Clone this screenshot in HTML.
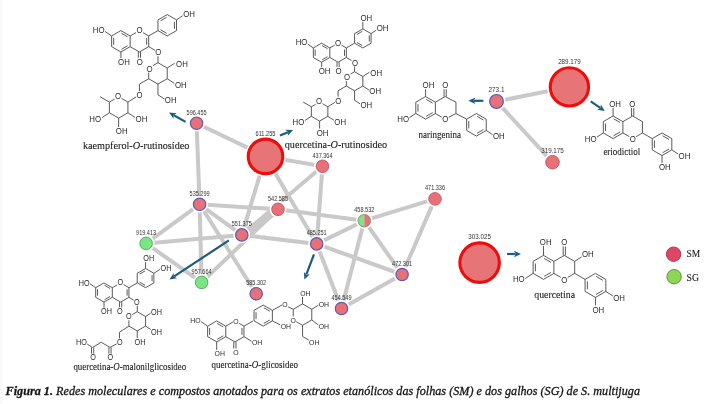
<!DOCTYPE html><html><head><meta charset="utf-8"><style>html,body{margin:0;padding:0;background:#fff;width:710px;height:404px;overflow:hidden}svg{display:block;will-change:transform;filter:blur(0.4px)}</style></head><body><svg width="710" height="404" viewBox="0 0 710 404">
<style>.at{font-family:"Liberation Sans",sans-serif;fill:#2a2a2a}.ms{font-family:"Liberation Sans",sans-serif;font-size:6.3px;fill:#333}.nm{font-family:"Liberation Serif",serif;fill:#1a1a1a;stroke:#1a1a1a;stroke-width:0.1px}.cap{font-family:"Liberation Serif",serif;fill:#151515;stroke:#151515;stroke-width:0.3px}</style>
<rect width="710" height="404" fill="#fff"/><rect width="2.5" height="404" fill="#f6faf9"/>
<line x1="196.6" y1="123.2" x2="265.5" y2="156.4" stroke="#c9c9c9" stroke-width="4"/>
<line x1="196.6" y1="123.2" x2="199.6" y2="204.3" stroke="#c9c9c9" stroke-width="4"/>
<line x1="265.5" y1="156.4" x2="322.5" y2="166.3" stroke="#c9c9c9" stroke-width="4"/>
<line x1="265.5" y1="156.4" x2="241.8" y2="234.9" stroke="#c9c9c9" stroke-width="4"/>
<line x1="265.5" y1="156.4" x2="316.7" y2="243.9" stroke="#c9c9c9" stroke-width="4"/>
<line x1="322.5" y1="166.3" x2="241.8" y2="234.9" stroke="#c9c9c9" stroke-width="4"/>
<line x1="322.5" y1="166.3" x2="316.7" y2="243.9" stroke="#c9c9c9" stroke-width="4"/>
<line x1="199.6" y1="204.3" x2="278.0" y2="209.3" stroke="#c9c9c9" stroke-width="4"/>
<line x1="199.6" y1="204.3" x2="241.8" y2="234.9" stroke="#c9c9c9" stroke-width="4"/>
<line x1="199.6" y1="204.3" x2="201.6" y2="282.4" stroke="#c9c9c9" stroke-width="4"/>
<line x1="199.6" y1="204.3" x2="256.2" y2="293.7" stroke="#c9c9c9" stroke-width="4"/>
<line x1="199.6" y1="204.3" x2="146.1" y2="243.4" stroke="#c9c9c9" stroke-width="4"/>
<line x1="241.8" y1="234.9" x2="146.1" y2="243.4" stroke="#c9c9c9" stroke-width="4"/>
<line x1="241.8" y1="234.9" x2="316.7" y2="243.9" stroke="#c9c9c9" stroke-width="4"/>
<line x1="241.8" y1="234.9" x2="278.0" y2="209.3" stroke="#c9c9c9" stroke-width="7"/>
<line x1="201.6" y1="282.4" x2="278.0" y2="209.3" stroke="#c9c9c9" stroke-width="4"/>
<line x1="146.1" y1="243.4" x2="201.6" y2="282.4" stroke="#c9c9c9" stroke-width="4"/>
<line x1="278.0" y1="209.3" x2="364.3" y2="220.7" stroke="#c9c9c9" stroke-width="4"/>
<line x1="316.7" y1="243.9" x2="364.3" y2="220.7" stroke="#c9c9c9" stroke-width="4"/>
<line x1="316.7" y1="243.9" x2="402.1" y2="274.5" stroke="#c9c9c9" stroke-width="4"/>
<line x1="316.7" y1="243.9" x2="341.5" y2="308.5" stroke="#c9c9c9" stroke-width="4"/>
<line x1="364.3" y1="220.7" x2="435.0" y2="198.9" stroke="#c9c9c9" stroke-width="4"/>
<line x1="364.3" y1="220.7" x2="402.1" y2="274.5" stroke="#c9c9c9" stroke-width="4"/>
<line x1="364.3" y1="220.7" x2="341.5" y2="308.5" stroke="#c9c9c9" stroke-width="4"/>
<line x1="435.0" y1="198.9" x2="402.1" y2="274.5" stroke="#c9c9c9" stroke-width="4"/>
<line x1="402.1" y1="274.5" x2="341.5" y2="308.5" stroke="#c9c9c9" stroke-width="4"/>
<line x1="496.5" y1="101.4" x2="569.4" y2="86.9" stroke="#c9c9c9" stroke-width="4"/>
<line x1="496.5" y1="101.4" x2="552.5" y2="162.2" stroke="#c9c9c9" stroke-width="4"/>
<circle cx="196.6" cy="123.2" r="8.4" fill="#fff"/>
<circle cx="196.6" cy="123.2" r="6.2" fill="#e87078" stroke="#5b5bb0" stroke-width="1.2"/>
<text x="186.60" y="114.70" class="ms" textLength="20.00" lengthAdjust="spacingAndGlyphs">596.455</text>
<circle cx="265.5" cy="156.4" r="20.3" fill="#fff"/>
<circle cx="265.5" cy="156.4" r="17.25" fill="#e77578" stroke="#ee0d0d" stroke-width="3.1"/>
<text x="255.50" y="136.20" class="ms" textLength="20.00" lengthAdjust="spacingAndGlyphs">611.255</text>
<circle cx="322.5" cy="166.3" r="8.4" fill="#fff"/>
<circle cx="322.5" cy="166.3" r="6.3" fill="#e87078" stroke="#c05862" stroke-width="0.9"/>
<text x="312.50" y="157.80" class="ms" textLength="20.00" lengthAdjust="spacingAndGlyphs">437.364</text>
<circle cx="199.6" cy="204.3" r="8.4" fill="#fff"/>
<circle cx="199.6" cy="204.3" r="6.2" fill="#e87078" stroke="#5b5bb0" stroke-width="1.2"/>
<text x="189.60" y="195.80" class="ms" textLength="20.00" lengthAdjust="spacingAndGlyphs">535.299</text>
<circle cx="278.0" cy="209.3" r="8.4" fill="#fff"/>
<circle cx="278.0" cy="209.3" r="6.3" fill="#e87078" stroke="#c05862" stroke-width="0.9"/>
<text x="268.00" y="200.80" class="ms" textLength="20.00" lengthAdjust="spacingAndGlyphs">542.585</text>
<circle cx="241.8" cy="234.9" r="8.4" fill="#fff"/>
<circle cx="241.8" cy="234.9" r="6.2" fill="#e87078" stroke="#5b5bb0" stroke-width="1.2"/>
<text x="231.80" y="226.40" class="ms" textLength="20.00" lengthAdjust="spacingAndGlyphs">551.375</text>
<circle cx="146.1" cy="243.4" r="8.4" fill="#fff"/>
<circle cx="146.1" cy="243.4" r="6.3" fill="#78e682" stroke="#55a05a" stroke-width="0.9"/>
<text x="136.10" y="234.90" class="ms" textLength="20.00" lengthAdjust="spacingAndGlyphs">919.413</text>
<circle cx="201.6" cy="282.4" r="8.4" fill="#fff"/>
<circle cx="201.6" cy="282.4" r="6.3" fill="#78e682" stroke="#55a05a" stroke-width="0.9"/>
<text x="191.60" y="273.90" class="ms" textLength="20.00" lengthAdjust="spacingAndGlyphs">957.664</text>
<circle cx="256.2" cy="293.7" r="8.4" fill="#fff"/>
<circle cx="256.2" cy="293.7" r="6.2" fill="#e87078" stroke="#5b5bb0" stroke-width="1.2"/>
<text x="246.20" y="285.20" class="ms" textLength="20.00" lengthAdjust="spacingAndGlyphs">585.302</text>
<circle cx="316.7" cy="243.9" r="8.4" fill="#fff"/>
<circle cx="316.7" cy="243.9" r="6.2" fill="#e87078" stroke="#5b5bb0" stroke-width="1.2"/>
<text x="306.70" y="235.40" class="ms" textLength="20.00" lengthAdjust="spacingAndGlyphs">485.251</text>
<circle cx="364.3" cy="220.7" r="8.4" fill="#fff"/>
<path d="M364.3,214.39999999999998 A6.3,6.3 0 0 0 364.3,227.0 Z" fill="#78e682"/>
<path d="M364.3,214.39999999999998 A6.3,6.3 0 0 1 364.3,227.0 Z" fill="#e87078"/>
<circle cx="364.3" cy="220.7" r="6.3" fill="none" stroke="#8a8a6a" stroke-width="0.9"/>
<text x="354.30" y="212.20" class="ms" textLength="20.00" lengthAdjust="spacingAndGlyphs">458.532</text>
<circle cx="435.0" cy="198.9" r="8.4" fill="#fff"/>
<circle cx="435.0" cy="198.9" r="6.3" fill="#e87078" stroke="#c05862" stroke-width="0.9"/>
<text x="425.00" y="190.40" class="ms" textLength="20.00" lengthAdjust="spacingAndGlyphs">471.336</text>
<circle cx="402.1" cy="274.5" r="8.4" fill="#fff"/>
<circle cx="402.1" cy="274.5" r="6.2" fill="#e87078" stroke="#5b5bb0" stroke-width="1.2"/>
<text x="392.10" y="266.00" class="ms" textLength="20.00" lengthAdjust="spacingAndGlyphs">472.301</text>
<circle cx="341.5" cy="308.5" r="8.4" fill="#fff"/>
<circle cx="341.5" cy="308.5" r="6.2" fill="#e87078" stroke="#5b5bb0" stroke-width="1.2"/>
<text x="331.50" y="300.00" class="ms" textLength="20.00" lengthAdjust="spacingAndGlyphs">454.549</text>
<circle cx="496.5" cy="101.4" r="9.1" fill="#fff"/>
<circle cx="496.5" cy="101.4" r="6.9" fill="#e87078" stroke="#5b5bb0" stroke-width="1.2"/>
<text x="488.46" y="92.20" class="ms" textLength="16.07" lengthAdjust="spacingAndGlyphs">273.1</text>
<circle cx="569.4" cy="86.9" r="22.2" fill="#fff"/>
<circle cx="569.4" cy="86.9" r="19.15" fill="#e77578" stroke="#ee0d0d" stroke-width="3.1"/>
<text x="558.15" y="63.80" class="ms" textLength="22.50" lengthAdjust="spacingAndGlyphs">289.179</text>
<circle cx="552.5" cy="162.2" r="8.9" fill="#fff"/>
<circle cx="552.5" cy="162.2" r="6.8" fill="#e87078" stroke="#c05862" stroke-width="0.9"/>
<text x="541.25" y="153.20" class="ms" textLength="22.50" lengthAdjust="spacingAndGlyphs">319.175</text>
<circle cx="479.6" cy="262.6" r="22.8" fill="#fff"/>
<circle cx="479.6" cy="262.6" r="19.75" fill="#e77578" stroke="#ee0d0d" stroke-width="3.1"/>
<text x="468.35" y="238.90" class="ms" textLength="22.50" lengthAdjust="spacingAndGlyphs">303.025</text>
<line x1="120.90" y1="30.60" x2="130.17" y2="35.95" stroke="#3c3c3c" stroke-width="0.85"/>
<line x1="130.17" y1="35.95" x2="130.17" y2="46.65" stroke="#3c3c3c" stroke-width="0.85"/>
<line x1="130.17" y1="46.65" x2="120.90" y2="52.00" stroke="#3c3c3c" stroke-width="0.85"/>
<line x1="120.90" y1="52.00" x2="111.63" y2="46.65" stroke="#3c3c3c" stroke-width="0.85"/>
<line x1="111.63" y1="46.65" x2="111.63" y2="35.95" stroke="#3c3c3c" stroke-width="0.85"/>
<line x1="111.63" y1="35.95" x2="120.90" y2="30.60" stroke="#3c3c3c" stroke-width="0.85"/>
<line x1="113.67" y1="44.81" x2="113.67" y2="37.79" stroke="#3c3c3c" stroke-width="0.85"/>
<line x1="121.48" y1="33.29" x2="127.55" y2="36.79" stroke="#3c3c3c" stroke-width="0.85"/>
<line x1="127.55" y1="45.81" x2="121.48" y2="49.31" stroke="#3c3c3c" stroke-width="0.85"/>
<line x1="130.17" y1="35.95" x2="139.43" y2="30.60" stroke="#3c3c3c" stroke-width="0.85"/>
<line x1="139.43" y1="30.60" x2="148.70" y2="35.95" stroke="#3c3c3c" stroke-width="0.85"/>
<line x1="148.70" y1="35.95" x2="148.70" y2="46.65" stroke="#3c3c3c" stroke-width="0.85"/>
<line x1="148.70" y1="46.65" x2="139.43" y2="52.00" stroke="#3c3c3c" stroke-width="0.85"/>
<line x1="139.43" y1="52.00" x2="130.17" y2="46.65" stroke="#3c3c3c" stroke-width="0.85"/>
<line x1="146.66" y1="37.79" x2="146.66" y2="44.81" stroke="#3c3c3c" stroke-width="0.85"/>
<line x1="138.33" y1="52.00" x2="138.33" y2="59.70" stroke="#3c3c3c" stroke-width="0.85"/>
<line x1="140.53" y1="52.00" x2="140.53" y2="59.70" stroke="#3c3c3c" stroke-width="0.85"/>
<line x1="148.70" y1="46.65" x2="157.97" y2="52.00" stroke="#3c3c3c" stroke-width="0.85"/>
<line x1="157.97" y1="52.00" x2="157.97" y2="62.70" stroke="#3c3c3c" stroke-width="0.85"/>
<line x1="148.70" y1="35.95" x2="157.97" y2="30.60" stroke="#3c3c3c" stroke-width="0.85"/>
<line x1="167.23" y1="14.55" x2="176.50" y2="19.90" stroke="#3c3c3c" stroke-width="0.85"/>
<line x1="176.50" y1="19.90" x2="176.50" y2="30.60" stroke="#3c3c3c" stroke-width="0.85"/>
<line x1="176.50" y1="30.60" x2="167.23" y2="35.95" stroke="#3c3c3c" stroke-width="0.85"/>
<line x1="167.23" y1="35.95" x2="157.97" y2="30.60" stroke="#3c3c3c" stroke-width="0.85"/>
<line x1="157.97" y1="30.60" x2="157.97" y2="19.90" stroke="#3c3c3c" stroke-width="0.85"/>
<line x1="157.97" y1="19.90" x2="167.23" y2="14.55" stroke="#3c3c3c" stroke-width="0.85"/>
<line x1="160.58" y1="20.74" x2="166.65" y2="17.24" stroke="#3c3c3c" stroke-width="0.85"/>
<line x1="174.46" y1="21.74" x2="174.46" y2="28.76" stroke="#3c3c3c" stroke-width="0.85"/>
<line x1="166.65" y1="33.26" x2="160.58" y2="29.76" stroke="#3c3c3c" stroke-width="0.85"/>
<line x1="176.50" y1="19.90" x2="184.38" y2="14.55" stroke="#3c3c3c" stroke-width="0.85"/>
<line x1="111.63" y1="35.95" x2="103.76" y2="30.60" stroke="#3c3c3c" stroke-width="0.85"/>
<line x1="120.90" y1="52.00" x2="120.90" y2="60.56" stroke="#3c3c3c" stroke-width="0.85"/>
<line x1="157.97" y1="62.70" x2="167.23" y2="68.05" stroke="#3c3c3c" stroke-width="0.85"/>
<line x1="167.23" y1="68.05" x2="167.23" y2="78.75" stroke="#3c3c3c" stroke-width="0.85"/>
<line x1="167.23" y1="78.75" x2="157.97" y2="84.10" stroke="#3c3c3c" stroke-width="0.85"/>
<line x1="157.97" y1="84.10" x2="148.70" y2="78.75" stroke="#3c3c3c" stroke-width="0.85"/>
<line x1="148.70" y1="78.75" x2="148.70" y2="68.05" stroke="#3c3c3c" stroke-width="0.85"/>
<line x1="148.70" y1="68.05" x2="157.97" y2="62.70" stroke="#3c3c3c" stroke-width="0.85"/>
<line x1="167.23" y1="68.05" x2="174.65" y2="63.23" stroke="#3c3c3c" stroke-width="0.85"/>
<line x1="167.23" y1="78.75" x2="174.65" y2="83.56" stroke="#3c3c3c" stroke-width="0.85"/>
<line x1="157.97" y1="84.10" x2="157.97" y2="94.80" stroke="#3c3c3c" stroke-width="0.85"/>
<line x1="157.97" y1="94.80" x2="165.38" y2="99.61" stroke="#3c3c3c" stroke-width="0.85"/>
<line x1="148.70" y1="78.75" x2="139.43" y2="84.10" stroke="#3c3c3c" stroke-width="0.85"/>
<line x1="139.43" y1="84.10" x2="139.43" y2="94.80" stroke="#3c3c3c" stroke-width="0.85"/>
<line x1="118.65" y1="96.73" x2="127.92" y2="102.08" stroke="#3c3c3c" stroke-width="0.85"/>
<line x1="127.92" y1="102.08" x2="127.92" y2="112.78" stroke="#3c3c3c" stroke-width="0.85"/>
<line x1="127.92" y1="112.78" x2="118.65" y2="118.13" stroke="#3c3c3c" stroke-width="0.85"/>
<line x1="118.65" y1="118.13" x2="109.39" y2="112.78" stroke="#3c3c3c" stroke-width="0.85"/>
<line x1="109.39" y1="112.78" x2="109.39" y2="102.08" stroke="#3c3c3c" stroke-width="0.85"/>
<line x1="109.39" y1="102.08" x2="118.65" y2="96.73" stroke="#3c3c3c" stroke-width="0.85"/>
<line x1="139.43" y1="94.80" x2="127.92" y2="102.08" stroke="#3c3c3c" stroke-width="0.85"/>
<line x1="109.39" y1="102.08" x2="100.12" y2="96.73" stroke="#3c3c3c" stroke-width="0.85"/>
<line x1="109.39" y1="112.78" x2="101.97" y2="117.59" stroke="#3c3c3c" stroke-width="0.85"/>
<line x1="127.92" y1="112.78" x2="135.33" y2="117.59" stroke="#3c3c3c" stroke-width="0.85"/>
<line x1="118.65" y1="118.13" x2="118.65" y2="127.22" stroke="#3c3c3c" stroke-width="0.85"/>
<line x1="321.60" y1="43.18" x2="329.85" y2="47.94" stroke="#3c3c3c" stroke-width="0.85"/>
<line x1="329.85" y1="47.94" x2="329.85" y2="57.46" stroke="#3c3c3c" stroke-width="0.85"/>
<line x1="329.85" y1="57.46" x2="321.60" y2="62.22" stroke="#3c3c3c" stroke-width="0.85"/>
<line x1="321.60" y1="62.22" x2="313.35" y2="57.46" stroke="#3c3c3c" stroke-width="0.85"/>
<line x1="313.35" y1="57.46" x2="313.35" y2="47.94" stroke="#3c3c3c" stroke-width="0.85"/>
<line x1="313.35" y1="47.94" x2="321.60" y2="43.18" stroke="#3c3c3c" stroke-width="0.85"/>
<line x1="315.17" y1="55.82" x2="315.17" y2="49.58" stroke="#3c3c3c" stroke-width="0.85"/>
<line x1="322.11" y1="45.57" x2="327.52" y2="48.69" stroke="#3c3c3c" stroke-width="0.85"/>
<line x1="327.52" y1="56.71" x2="322.11" y2="59.83" stroke="#3c3c3c" stroke-width="0.85"/>
<line x1="329.85" y1="47.94" x2="338.09" y2="43.18" stroke="#3c3c3c" stroke-width="0.85"/>
<line x1="338.09" y1="43.18" x2="346.34" y2="47.94" stroke="#3c3c3c" stroke-width="0.85"/>
<line x1="346.34" y1="47.94" x2="346.34" y2="57.46" stroke="#3c3c3c" stroke-width="0.85"/>
<line x1="346.34" y1="57.46" x2="338.09" y2="62.22" stroke="#3c3c3c" stroke-width="0.85"/>
<line x1="338.09" y1="62.22" x2="329.85" y2="57.46" stroke="#3c3c3c" stroke-width="0.85"/>
<line x1="344.53" y1="49.58" x2="344.53" y2="55.82" stroke="#3c3c3c" stroke-width="0.85"/>
<line x1="336.99" y1="62.22" x2="336.99" y2="69.08" stroke="#3c3c3c" stroke-width="0.85"/>
<line x1="339.19" y1="62.22" x2="339.19" y2="69.08" stroke="#3c3c3c" stroke-width="0.85"/>
<line x1="346.34" y1="57.46" x2="354.59" y2="62.22" stroke="#3c3c3c" stroke-width="0.85"/>
<line x1="354.59" y1="62.22" x2="354.59" y2="71.75" stroke="#3c3c3c" stroke-width="0.85"/>
<line x1="346.34" y1="47.94" x2="354.59" y2="43.18" stroke="#3c3c3c" stroke-width="0.85"/>
<line x1="362.84" y1="28.89" x2="371.08" y2="33.65" stroke="#3c3c3c" stroke-width="0.85"/>
<line x1="371.08" y1="33.65" x2="371.08" y2="43.18" stroke="#3c3c3c" stroke-width="0.85"/>
<line x1="371.08" y1="43.18" x2="362.84" y2="47.94" stroke="#3c3c3c" stroke-width="0.85"/>
<line x1="362.84" y1="47.94" x2="354.59" y2="43.18" stroke="#3c3c3c" stroke-width="0.85"/>
<line x1="354.59" y1="43.18" x2="354.59" y2="33.65" stroke="#3c3c3c" stroke-width="0.85"/>
<line x1="354.59" y1="33.65" x2="362.84" y2="28.89" stroke="#3c3c3c" stroke-width="0.85"/>
<line x1="356.92" y1="34.40" x2="362.32" y2="31.28" stroke="#3c3c3c" stroke-width="0.85"/>
<line x1="369.27" y1="35.30" x2="369.27" y2="41.54" stroke="#3c3c3c" stroke-width="0.85"/>
<line x1="362.32" y1="45.55" x2="356.92" y2="42.43" stroke="#3c3c3c" stroke-width="0.85"/>
<line x1="371.08" y1="33.65" x2="378.09" y2="28.89" stroke="#3c3c3c" stroke-width="0.85"/>
<line x1="313.35" y1="47.94" x2="306.34" y2="43.18" stroke="#3c3c3c" stroke-width="0.85"/>
<line x1="321.60" y1="62.22" x2="321.60" y2="69.84" stroke="#3c3c3c" stroke-width="0.85"/>
<line x1="354.59" y1="71.75" x2="362.84" y2="76.51" stroke="#3c3c3c" stroke-width="0.85"/>
<line x1="362.84" y1="76.51" x2="362.84" y2="86.03" stroke="#3c3c3c" stroke-width="0.85"/>
<line x1="362.84" y1="86.03" x2="354.59" y2="90.79" stroke="#3c3c3c" stroke-width="0.85"/>
<line x1="354.59" y1="90.79" x2="346.34" y2="86.03" stroke="#3c3c3c" stroke-width="0.85"/>
<line x1="346.34" y1="86.03" x2="346.34" y2="76.51" stroke="#3c3c3c" stroke-width="0.85"/>
<line x1="346.34" y1="76.51" x2="354.59" y2="71.75" stroke="#3c3c3c" stroke-width="0.85"/>
<line x1="362.84" y1="76.51" x2="369.43" y2="72.22" stroke="#3c3c3c" stroke-width="0.85"/>
<line x1="362.84" y1="86.03" x2="369.43" y2="90.32" stroke="#3c3c3c" stroke-width="0.85"/>
<line x1="354.59" y1="90.79" x2="354.59" y2="100.31" stroke="#3c3c3c" stroke-width="0.85"/>
<line x1="354.59" y1="100.31" x2="361.19" y2="104.60" stroke="#3c3c3c" stroke-width="0.85"/>
<line x1="346.34" y1="86.03" x2="338.09" y2="90.79" stroke="#3c3c3c" stroke-width="0.85"/>
<line x1="338.09" y1="90.79" x2="338.09" y2="100.31" stroke="#3c3c3c" stroke-width="0.85"/>
<line x1="319.60" y1="102.03" x2="327.85" y2="106.79" stroke="#3c3c3c" stroke-width="0.85"/>
<line x1="327.85" y1="106.79" x2="327.85" y2="116.31" stroke="#3c3c3c" stroke-width="0.85"/>
<line x1="327.85" y1="116.31" x2="319.60" y2="121.08" stroke="#3c3c3c" stroke-width="0.85"/>
<line x1="319.60" y1="121.08" x2="311.35" y2="116.31" stroke="#3c3c3c" stroke-width="0.85"/>
<line x1="311.35" y1="116.31" x2="311.35" y2="106.79" stroke="#3c3c3c" stroke-width="0.85"/>
<line x1="311.35" y1="106.79" x2="319.60" y2="102.03" stroke="#3c3c3c" stroke-width="0.85"/>
<line x1="338.09" y1="100.31" x2="327.85" y2="106.79" stroke="#3c3c3c" stroke-width="0.85"/>
<line x1="311.35" y1="106.79" x2="303.11" y2="102.03" stroke="#3c3c3c" stroke-width="0.85"/>
<line x1="311.35" y1="116.31" x2="304.76" y2="120.60" stroke="#3c3c3c" stroke-width="0.85"/>
<line x1="327.85" y1="116.31" x2="334.45" y2="120.60" stroke="#3c3c3c" stroke-width="0.85"/>
<line x1="319.60" y1="121.08" x2="319.60" y2="129.17" stroke="#3c3c3c" stroke-width="0.85"/>
<line x1="362.84" y1="28.89" x2="362.84" y2="21.27" stroke="#3c3c3c" stroke-width="0.85"/>
<line x1="425.60" y1="96.55" x2="435.39" y2="102.20" stroke="#3c3c3c" stroke-width="0.85"/>
<line x1="435.39" y1="102.20" x2="435.39" y2="113.50" stroke="#3c3c3c" stroke-width="0.85"/>
<line x1="435.39" y1="113.50" x2="425.60" y2="119.15" stroke="#3c3c3c" stroke-width="0.85"/>
<line x1="425.60" y1="119.15" x2="415.81" y2="113.50" stroke="#3c3c3c" stroke-width="0.85"/>
<line x1="415.81" y1="113.50" x2="415.81" y2="102.20" stroke="#3c3c3c" stroke-width="0.85"/>
<line x1="415.81" y1="102.20" x2="425.60" y2="96.55" stroke="#3c3c3c" stroke-width="0.85"/>
<line x1="417.97" y1="111.55" x2="417.97" y2="104.15" stroke="#3c3c3c" stroke-width="0.85"/>
<line x1="426.21" y1="99.39" x2="432.62" y2="103.09" stroke="#3c3c3c" stroke-width="0.85"/>
<line x1="432.62" y1="112.61" x2="426.21" y2="116.31" stroke="#3c3c3c" stroke-width="0.85"/>
<line x1="435.39" y1="102.20" x2="445.17" y2="96.55" stroke="#3c3c3c" stroke-width="0.85"/>
<line x1="445.17" y1="96.55" x2="455.96" y2="102.20" stroke="#3c3c3c" stroke-width="0.85"/>
<line x1="455.96" y1="102.20" x2="455.96" y2="113.50" stroke="#3c3c3c" stroke-width="0.85"/>
<line x1="455.96" y1="113.50" x2="445.17" y2="119.15" stroke="#3c3c3c" stroke-width="0.85"/>
<line x1="445.17" y1="119.15" x2="435.39" y2="113.50" stroke="#3c3c3c" stroke-width="0.85"/>
<line x1="446.27" y1="96.55" x2="446.27" y2="88.07" stroke="#3c3c3c" stroke-width="0.85"/>
<line x1="444.07" y1="96.55" x2="444.07" y2="88.07" stroke="#3c3c3c" stroke-width="0.85"/>
<line x1="425.60" y1="96.55" x2="425.60" y2="87.51" stroke="#3c3c3c" stroke-width="0.85"/>
<line x1="415.81" y1="113.50" x2="407.99" y2="118.58" stroke="#3c3c3c" stroke-width="0.85"/>
<line x1="455.96" y1="113.50" x2="466.64" y2="119.15" stroke="#3c3c3c" stroke-width="0.85"/>
<line x1="476.43" y1="113.50" x2="486.22" y2="119.15" stroke="#3c3c3c" stroke-width="0.85"/>
<line x1="486.22" y1="119.15" x2="486.22" y2="130.45" stroke="#3c3c3c" stroke-width="0.85"/>
<line x1="486.22" y1="130.45" x2="476.43" y2="136.10" stroke="#3c3c3c" stroke-width="0.85"/>
<line x1="476.43" y1="136.10" x2="466.64" y2="130.45" stroke="#3c3c3c" stroke-width="0.85"/>
<line x1="466.64" y1="130.45" x2="466.64" y2="119.15" stroke="#3c3c3c" stroke-width="0.85"/>
<line x1="466.64" y1="119.15" x2="476.43" y2="113.50" stroke="#3c3c3c" stroke-width="0.85"/>
<line x1="468.80" y1="128.50" x2="468.80" y2="121.10" stroke="#3c3c3c" stroke-width="0.85"/>
<line x1="477.04" y1="116.34" x2="483.45" y2="120.04" stroke="#3c3c3c" stroke-width="0.85"/>
<line x1="483.45" y1="129.56" x2="477.04" y2="133.26" stroke="#3c3c3c" stroke-width="0.85"/>
<line x1="486.22" y1="130.45" x2="494.05" y2="135.53" stroke="#3c3c3c" stroke-width="0.85"/>
<line x1="613.10" y1="116.00" x2="622.89" y2="121.65" stroke="#3c3c3c" stroke-width="0.85"/>
<line x1="622.89" y1="121.65" x2="622.89" y2="132.95" stroke="#3c3c3c" stroke-width="0.85"/>
<line x1="622.89" y1="132.95" x2="613.10" y2="138.60" stroke="#3c3c3c" stroke-width="0.85"/>
<line x1="613.10" y1="138.60" x2="603.31" y2="132.95" stroke="#3c3c3c" stroke-width="0.85"/>
<line x1="603.31" y1="132.95" x2="603.31" y2="121.65" stroke="#3c3c3c" stroke-width="0.85"/>
<line x1="603.31" y1="121.65" x2="613.10" y2="116.00" stroke="#3c3c3c" stroke-width="0.85"/>
<line x1="605.47" y1="131.00" x2="605.47" y2="123.60" stroke="#3c3c3c" stroke-width="0.85"/>
<line x1="613.71" y1="118.84" x2="620.12" y2="122.54" stroke="#3c3c3c" stroke-width="0.85"/>
<line x1="620.12" y1="132.06" x2="613.71" y2="135.76" stroke="#3c3c3c" stroke-width="0.85"/>
<line x1="622.89" y1="121.65" x2="632.67" y2="116.00" stroke="#3c3c3c" stroke-width="0.85"/>
<line x1="632.67" y1="116.00" x2="642.46" y2="121.65" stroke="#3c3c3c" stroke-width="0.85"/>
<line x1="642.46" y1="121.65" x2="642.46" y2="132.95" stroke="#3c3c3c" stroke-width="0.85"/>
<line x1="642.46" y1="132.95" x2="632.67" y2="138.60" stroke="#3c3c3c" stroke-width="0.85"/>
<line x1="632.67" y1="138.60" x2="622.89" y2="132.95" stroke="#3c3c3c" stroke-width="0.85"/>
<line x1="633.77" y1="116.00" x2="633.77" y2="107.52" stroke="#3c3c3c" stroke-width="0.85"/>
<line x1="631.57" y1="116.00" x2="631.57" y2="107.52" stroke="#3c3c3c" stroke-width="0.85"/>
<line x1="613.10" y1="116.00" x2="613.10" y2="106.96" stroke="#3c3c3c" stroke-width="0.85"/>
<line x1="603.31" y1="132.95" x2="595.49" y2="138.03" stroke="#3c3c3c" stroke-width="0.85"/>
<line x1="642.46" y1="132.95" x2="652.24" y2="138.60" stroke="#3c3c3c" stroke-width="0.85"/>
<line x1="662.03" y1="132.95" x2="671.82" y2="138.60" stroke="#3c3c3c" stroke-width="0.85"/>
<line x1="671.82" y1="138.60" x2="671.82" y2="149.90" stroke="#3c3c3c" stroke-width="0.85"/>
<line x1="671.82" y1="149.90" x2="662.03" y2="155.55" stroke="#3c3c3c" stroke-width="0.85"/>
<line x1="662.03" y1="155.55" x2="652.24" y2="149.90" stroke="#3c3c3c" stroke-width="0.85"/>
<line x1="652.24" y1="149.90" x2="652.24" y2="138.60" stroke="#3c3c3c" stroke-width="0.85"/>
<line x1="652.24" y1="138.60" x2="662.03" y2="132.95" stroke="#3c3c3c" stroke-width="0.85"/>
<line x1="654.40" y1="147.95" x2="654.40" y2="140.55" stroke="#3c3c3c" stroke-width="0.85"/>
<line x1="662.64" y1="135.79" x2="669.05" y2="139.49" stroke="#3c3c3c" stroke-width="0.85"/>
<line x1="669.05" y1="149.01" x2="662.64" y2="152.71" stroke="#3c3c3c" stroke-width="0.85"/>
<line x1="671.82" y1="149.90" x2="679.65" y2="154.99" stroke="#3c3c3c" stroke-width="0.85"/>
<line x1="662.03" y1="155.55" x2="662.03" y2="164.59" stroke="#3c3c3c" stroke-width="0.85"/>
<line x1="543.50" y1="255.40" x2="553.89" y2="261.40" stroke="#3c3c3c" stroke-width="0.85"/>
<line x1="553.89" y1="261.40" x2="553.89" y2="273.40" stroke="#3c3c3c" stroke-width="0.85"/>
<line x1="553.89" y1="273.40" x2="543.50" y2="279.40" stroke="#3c3c3c" stroke-width="0.85"/>
<line x1="543.50" y1="279.40" x2="533.11" y2="273.40" stroke="#3c3c3c" stroke-width="0.85"/>
<line x1="533.11" y1="273.40" x2="533.11" y2="261.40" stroke="#3c3c3c" stroke-width="0.85"/>
<line x1="533.11" y1="261.40" x2="543.50" y2="255.40" stroke="#3c3c3c" stroke-width="0.85"/>
<line x1="535.39" y1="271.33" x2="535.39" y2="263.47" stroke="#3c3c3c" stroke-width="0.85"/>
<line x1="544.15" y1="258.41" x2="550.96" y2="262.35" stroke="#3c3c3c" stroke-width="0.85"/>
<line x1="550.96" y1="272.45" x2="544.15" y2="276.39" stroke="#3c3c3c" stroke-width="0.85"/>
<line x1="553.89" y1="261.40" x2="564.28" y2="255.40" stroke="#3c3c3c" stroke-width="0.85"/>
<line x1="564.28" y1="255.40" x2="574.68" y2="261.40" stroke="#3c3c3c" stroke-width="0.85"/>
<line x1="574.68" y1="261.40" x2="574.68" y2="273.40" stroke="#3c3c3c" stroke-width="0.85"/>
<line x1="574.68" y1="273.40" x2="564.28" y2="279.40" stroke="#3c3c3c" stroke-width="0.85"/>
<line x1="564.28" y1="279.40" x2="553.89" y2="273.40" stroke="#3c3c3c" stroke-width="0.85"/>
<line x1="565.38" y1="255.40" x2="565.38" y2="246.40" stroke="#3c3c3c" stroke-width="0.85"/>
<line x1="563.18" y1="255.40" x2="563.18" y2="246.40" stroke="#3c3c3c" stroke-width="0.85"/>
<line x1="543.50" y1="255.40" x2="543.50" y2="245.80" stroke="#3c3c3c" stroke-width="0.85"/>
<line x1="533.11" y1="273.40" x2="524.79" y2="278.80" stroke="#3c3c3c" stroke-width="0.85"/>
<line x1="574.68" y1="273.40" x2="585.07" y2="279.40" stroke="#3c3c3c" stroke-width="0.85"/>
<line x1="595.46" y1="273.40" x2="605.85" y2="279.40" stroke="#3c3c3c" stroke-width="0.85"/>
<line x1="605.85" y1="279.40" x2="605.85" y2="291.40" stroke="#3c3c3c" stroke-width="0.85"/>
<line x1="605.85" y1="291.40" x2="595.46" y2="297.40" stroke="#3c3c3c" stroke-width="0.85"/>
<line x1="595.46" y1="297.40" x2="585.07" y2="291.40" stroke="#3c3c3c" stroke-width="0.85"/>
<line x1="585.07" y1="291.40" x2="585.07" y2="279.40" stroke="#3c3c3c" stroke-width="0.85"/>
<line x1="585.07" y1="279.40" x2="595.46" y2="273.40" stroke="#3c3c3c" stroke-width="0.85"/>
<line x1="587.36" y1="289.33" x2="587.36" y2="281.47" stroke="#3c3c3c" stroke-width="0.85"/>
<line x1="596.11" y1="276.41" x2="602.92" y2="280.35" stroke="#3c3c3c" stroke-width="0.85"/>
<line x1="602.92" y1="290.45" x2="596.11" y2="294.39" stroke="#3c3c3c" stroke-width="0.85"/>
<line x1="605.85" y1="291.40" x2="614.17" y2="296.80" stroke="#3c3c3c" stroke-width="0.85"/>
<line x1="595.46" y1="297.40" x2="595.46" y2="307.00" stroke="#3c3c3c" stroke-width="0.85"/>
<line x1="574.68" y1="261.40" x2="582.99" y2="256.00" stroke="#3c3c3c" stroke-width="0.85"/>
<line x1="104.00" y1="282.90" x2="112.31" y2="287.70" stroke="#3c3c3c" stroke-width="0.85"/>
<line x1="112.31" y1="287.70" x2="112.31" y2="297.30" stroke="#3c3c3c" stroke-width="0.85"/>
<line x1="112.31" y1="297.30" x2="104.00" y2="302.10" stroke="#3c3c3c" stroke-width="0.85"/>
<line x1="104.00" y1="302.10" x2="95.69" y2="297.30" stroke="#3c3c3c" stroke-width="0.85"/>
<line x1="95.69" y1="297.30" x2="95.69" y2="287.70" stroke="#3c3c3c" stroke-width="0.85"/>
<line x1="95.69" y1="287.70" x2="104.00" y2="282.90" stroke="#3c3c3c" stroke-width="0.85"/>
<line x1="97.52" y1="295.64" x2="97.52" y2="289.36" stroke="#3c3c3c" stroke-width="0.85"/>
<line x1="104.52" y1="285.31" x2="109.97" y2="288.46" stroke="#3c3c3c" stroke-width="0.85"/>
<line x1="109.97" y1="296.54" x2="104.52" y2="299.69" stroke="#3c3c3c" stroke-width="0.85"/>
<line x1="112.31" y1="287.70" x2="120.63" y2="282.90" stroke="#3c3c3c" stroke-width="0.85"/>
<line x1="120.63" y1="282.90" x2="128.94" y2="287.70" stroke="#3c3c3c" stroke-width="0.85"/>
<line x1="128.94" y1="287.70" x2="128.94" y2="297.30" stroke="#3c3c3c" stroke-width="0.85"/>
<line x1="128.94" y1="297.30" x2="120.63" y2="302.10" stroke="#3c3c3c" stroke-width="0.85"/>
<line x1="120.63" y1="302.10" x2="112.31" y2="297.30" stroke="#3c3c3c" stroke-width="0.85"/>
<line x1="127.11" y1="289.36" x2="127.11" y2="295.64" stroke="#3c3c3c" stroke-width="0.85"/>
<line x1="119.53" y1="302.10" x2="119.53" y2="309.01" stroke="#3c3c3c" stroke-width="0.85"/>
<line x1="121.73" y1="302.10" x2="121.73" y2="309.01" stroke="#3c3c3c" stroke-width="0.85"/>
<line x1="95.69" y1="287.70" x2="88.62" y2="282.90" stroke="#3c3c3c" stroke-width="0.85"/>
<line x1="104.00" y1="302.10" x2="104.00" y2="309.78" stroke="#3c3c3c" stroke-width="0.85"/>
<line x1="128.94" y1="297.30" x2="136.01" y2="301.62" stroke="#3c3c3c" stroke-width="0.85"/>
<line x1="128.94" y1="287.70" x2="137.26" y2="282.90" stroke="#3c3c3c" stroke-width="0.85"/>
<line x1="145.57" y1="268.50" x2="153.88" y2="273.30" stroke="#3c3c3c" stroke-width="0.85"/>
<line x1="153.88" y1="273.30" x2="153.88" y2="282.90" stroke="#3c3c3c" stroke-width="0.85"/>
<line x1="153.88" y1="282.90" x2="145.57" y2="287.70" stroke="#3c3c3c" stroke-width="0.85"/>
<line x1="145.57" y1="287.70" x2="137.26" y2="282.90" stroke="#3c3c3c" stroke-width="0.85"/>
<line x1="137.26" y1="282.90" x2="137.26" y2="273.30" stroke="#3c3c3c" stroke-width="0.85"/>
<line x1="137.26" y1="273.30" x2="145.57" y2="268.50" stroke="#3c3c3c" stroke-width="0.85"/>
<line x1="139.60" y1="274.06" x2="145.05" y2="270.91" stroke="#3c3c3c" stroke-width="0.85"/>
<line x1="152.05" y1="274.96" x2="152.05" y2="281.24" stroke="#3c3c3c" stroke-width="0.85"/>
<line x1="145.05" y1="285.29" x2="139.60" y2="282.14" stroke="#3c3c3c" stroke-width="0.85"/>
<line x1="145.57" y1="268.50" x2="145.57" y2="260.82" stroke="#3c3c3c" stroke-width="0.85"/>
<line x1="153.88" y1="273.30" x2="160.53" y2="268.98" stroke="#3c3c3c" stroke-width="0.85"/>
<line x1="137.26" y1="302.10" x2="137.26" y2="311.70" stroke="#3c3c3c" stroke-width="0.85"/>
<line x1="137.26" y1="311.70" x2="145.57" y2="316.50" stroke="#3c3c3c" stroke-width="0.85"/>
<line x1="145.57" y1="316.50" x2="145.57" y2="326.10" stroke="#3c3c3c" stroke-width="0.85"/>
<line x1="145.57" y1="326.10" x2="137.26" y2="330.90" stroke="#3c3c3c" stroke-width="0.85"/>
<line x1="137.26" y1="330.90" x2="128.94" y2="326.10" stroke="#3c3c3c" stroke-width="0.85"/>
<line x1="128.94" y1="326.10" x2="128.94" y2="316.50" stroke="#3c3c3c" stroke-width="0.85"/>
<line x1="128.94" y1="316.50" x2="137.26" y2="311.70" stroke="#3c3c3c" stroke-width="0.85"/>
<line x1="145.57" y1="316.50" x2="152.22" y2="312.18" stroke="#3c3c3c" stroke-width="0.85"/>
<line x1="145.57" y1="326.10" x2="152.22" y2="330.42" stroke="#3c3c3c" stroke-width="0.85"/>
<line x1="137.26" y1="330.90" x2="137.26" y2="338.58" stroke="#3c3c3c" stroke-width="0.85"/>
<line x1="128.94" y1="326.10" x2="119.40" y2="332.30" stroke="#3c3c3c" stroke-width="0.85"/>
<line x1="119.40" y1="332.30" x2="119.60" y2="341.00" stroke="#3c3c3c" stroke-width="0.85"/>
<line x1="119.60" y1="342.20" x2="110.00" y2="347.50" stroke="#3c3c3c" stroke-width="0.85"/>
<line x1="108.90" y1="347.50" x2="108.90" y2="354.50" stroke="#3c3c3c" stroke-width="0.85"/>
<line x1="111.10" y1="347.50" x2="111.10" y2="354.50" stroke="#3c3c3c" stroke-width="0.85"/>
<line x1="110.00" y1="347.50" x2="101.20" y2="342.20" stroke="#3c3c3c" stroke-width="0.85"/>
<line x1="101.20" y1="342.20" x2="92.60" y2="347.50" stroke="#3c3c3c" stroke-width="0.85"/>
<line x1="91.50" y1="347.50" x2="91.50" y2="354.50" stroke="#3c3c3c" stroke-width="0.85"/>
<line x1="93.70" y1="347.50" x2="93.70" y2="354.50" stroke="#3c3c3c" stroke-width="0.85"/>
<line x1="92.60" y1="347.50" x2="85.50" y2="343.00" stroke="#3c3c3c" stroke-width="0.85"/>
<line x1="216.70" y1="320.90" x2="225.79" y2="326.15" stroke="#3c3c3c" stroke-width="0.85"/>
<line x1="225.79" y1="326.15" x2="225.79" y2="336.65" stroke="#3c3c3c" stroke-width="0.85"/>
<line x1="225.79" y1="336.65" x2="216.70" y2="341.90" stroke="#3c3c3c" stroke-width="0.85"/>
<line x1="216.70" y1="341.90" x2="207.61" y2="336.65" stroke="#3c3c3c" stroke-width="0.85"/>
<line x1="207.61" y1="336.65" x2="207.61" y2="326.15" stroke="#3c3c3c" stroke-width="0.85"/>
<line x1="207.61" y1="326.15" x2="216.70" y2="320.90" stroke="#3c3c3c" stroke-width="0.85"/>
<line x1="209.61" y1="334.84" x2="209.61" y2="327.96" stroke="#3c3c3c" stroke-width="0.85"/>
<line x1="217.27" y1="323.54" x2="223.23" y2="326.98" stroke="#3c3c3c" stroke-width="0.85"/>
<line x1="223.23" y1="335.82" x2="217.27" y2="339.26" stroke="#3c3c3c" stroke-width="0.85"/>
<line x1="225.79" y1="326.15" x2="234.89" y2="320.90" stroke="#3c3c3c" stroke-width="0.85"/>
<line x1="234.89" y1="320.90" x2="243.98" y2="326.15" stroke="#3c3c3c" stroke-width="0.85"/>
<line x1="243.98" y1="326.15" x2="243.98" y2="336.65" stroke="#3c3c3c" stroke-width="0.85"/>
<line x1="243.98" y1="336.65" x2="234.89" y2="341.90" stroke="#3c3c3c" stroke-width="0.85"/>
<line x1="234.89" y1="341.90" x2="225.79" y2="336.65" stroke="#3c3c3c" stroke-width="0.85"/>
<line x1="241.98" y1="327.96" x2="241.98" y2="334.84" stroke="#3c3c3c" stroke-width="0.85"/>
<line x1="233.79" y1="341.90" x2="233.79" y2="349.46" stroke="#3c3c3c" stroke-width="0.85"/>
<line x1="235.99" y1="341.90" x2="235.99" y2="349.46" stroke="#3c3c3c" stroke-width="0.85"/>
<line x1="207.61" y1="326.15" x2="199.88" y2="320.90" stroke="#3c3c3c" stroke-width="0.85"/>
<line x1="216.70" y1="341.90" x2="216.70" y2="350.30" stroke="#3c3c3c" stroke-width="0.85"/>
<line x1="243.98" y1="336.65" x2="251.71" y2="341.38" stroke="#3c3c3c" stroke-width="0.85"/>
<line x1="243.98" y1="326.15" x2="253.07" y2="320.90" stroke="#3c3c3c" stroke-width="0.85"/>
<line x1="263.20" y1="305.10" x2="272.38" y2="310.35" stroke="#3c3c3c" stroke-width="0.85"/>
<line x1="272.38" y1="310.35" x2="272.38" y2="320.85" stroke="#3c3c3c" stroke-width="0.85"/>
<line x1="272.38" y1="320.85" x2="263.20" y2="326.10" stroke="#3c3c3c" stroke-width="0.85"/>
<line x1="263.20" y1="326.10" x2="254.02" y2="320.85" stroke="#3c3c3c" stroke-width="0.85"/>
<line x1="254.02" y1="320.85" x2="254.02" y2="310.35" stroke="#3c3c3c" stroke-width="0.85"/>
<line x1="254.02" y1="310.35" x2="263.20" y2="305.10" stroke="#3c3c3c" stroke-width="0.85"/>
<line x1="256.04" y1="319.04" x2="256.04" y2="312.16" stroke="#3c3c3c" stroke-width="0.85"/>
<line x1="263.77" y1="307.74" x2="269.79" y2="311.18" stroke="#3c3c3c" stroke-width="0.85"/>
<line x1="269.79" y1="320.02" x2="263.77" y2="323.46" stroke="#3c3c3c" stroke-width="0.85"/>
<line x1="272.38" y1="310.35" x2="283.00" y2="304.40" stroke="#3c3c3c" stroke-width="0.85"/>
<line x1="283.00" y1="304.40" x2="293.20" y2="309.30" stroke="#3c3c3c" stroke-width="0.85"/>
<line x1="272.38" y1="320.85" x2="280.50" y2="325.00" stroke="#3c3c3c" stroke-width="0.85"/>
<line x1="302.50" y1="303.90" x2="311.77" y2="309.25" stroke="#3c3c3c" stroke-width="0.85"/>
<line x1="311.77" y1="309.25" x2="311.77" y2="319.95" stroke="#3c3c3c" stroke-width="0.85"/>
<line x1="311.77" y1="319.95" x2="302.50" y2="325.30" stroke="#3c3c3c" stroke-width="0.85"/>
<line x1="302.50" y1="325.30" x2="293.23" y2="319.95" stroke="#3c3c3c" stroke-width="0.85"/>
<line x1="293.23" y1="319.95" x2="293.23" y2="309.25" stroke="#3c3c3c" stroke-width="0.85"/>
<line x1="293.23" y1="309.25" x2="302.50" y2="303.90" stroke="#3c3c3c" stroke-width="0.85"/>
<line x1="302.50" y1="303.90" x2="302.50" y2="296.00" stroke="#3c3c3c" stroke-width="0.85"/>
<line x1="311.77" y1="309.25" x2="319.00" y2="304.80" stroke="#3c3c3c" stroke-width="0.85"/>
<line x1="311.77" y1="319.95" x2="319.00" y2="325.50" stroke="#3c3c3c" stroke-width="0.85"/>
<line x1="302.50" y1="325.30" x2="302.60" y2="336.50" stroke="#3c3c3c" stroke-width="0.85"/>
<line x1="302.60" y1="336.50" x2="310.80" y2="341.20" stroke="#3c3c3c" stroke-width="0.85"/>
<rect x="182.75" y="9.65" width="12.54" height="8.01" fill="#fff"/>
<text x="183.15" y="16.75" font-size="9.0" class="at" textLength="11.74" lengthAdjust="spacingAndGlyphs">OH</text>
<rect x="92.40" y="25.60" width="12.54" height="8.01" fill="#fff"/>
<text x="92.80" y="32.70" font-size="9.0" class="at" textLength="11.74" lengthAdjust="spacingAndGlyphs">HO</text>
<rect x="117.65" y="58.10" width="12.54" height="8.01" fill="#fff"/>
<text x="118.05" y="65.20" font-size="9.0" class="at" textLength="11.74" lengthAdjust="spacingAndGlyphs">OH</text>
<rect x="136.35" y="57.80" width="6.89" height="8.01" fill="#fff"/>
<text x="136.75" y="64.91" font-size="9.0" class="at" textLength="6.09" lengthAdjust="spacingAndGlyphs">O</text>
<rect x="154.95" y="48.20" width="6.89" height="8.01" fill="#fff"/>
<text x="155.35" y="55.30" font-size="9.0" class="at" textLength="6.09" lengthAdjust="spacingAndGlyphs">O</text>
<rect x="136.05" y="25.89" width="6.89" height="8.01" fill="#fff"/>
<text x="136.45" y="33.00" font-size="9.0" class="at" textLength="6.09" lengthAdjust="spacingAndGlyphs">O</text>
<rect x="146.05" y="64.59" width="6.89" height="8.01" fill="#fff"/>
<text x="146.45" y="71.70" font-size="9.0" class="at" textLength="6.09" lengthAdjust="spacingAndGlyphs">O</text>
<rect x="175.65" y="59.70" width="12.54" height="8.01" fill="#fff"/>
<text x="176.05" y="66.81" font-size="9.0" class="at" textLength="11.74" lengthAdjust="spacingAndGlyphs">OH</text>
<rect x="174.55" y="80.69" width="12.54" height="8.01" fill="#fff"/>
<text x="174.95" y="87.81" font-size="9.0" class="at" textLength="11.74" lengthAdjust="spacingAndGlyphs">OH</text>
<rect x="164.45" y="95.79" width="12.54" height="8.01" fill="#fff"/>
<text x="164.85" y="102.91" font-size="9.0" class="at" textLength="11.74" lengthAdjust="spacingAndGlyphs">OH</text>
<rect x="136.15" y="91.19" width="6.89" height="8.01" fill="#fff"/>
<text x="136.55" y="98.31" font-size="9.0" class="at" textLength="6.09" lengthAdjust="spacingAndGlyphs">O</text>
<rect x="114.55" y="91.59" width="6.89" height="8.01" fill="#fff"/>
<text x="114.95" y="98.70" font-size="9.0" class="at" textLength="6.09" lengthAdjust="spacingAndGlyphs">O</text>
<rect x="88.90" y="114.79" width="12.54" height="8.01" fill="#fff"/>
<text x="89.30" y="121.91" font-size="9.0" class="at" textLength="11.74" lengthAdjust="spacingAndGlyphs">HO</text>
<rect x="135.15" y="114.79" width="12.54" height="8.01" fill="#fff"/>
<text x="135.55" y="121.91" font-size="9.0" class="at" textLength="11.74" lengthAdjust="spacingAndGlyphs">OH</text>
<rect x="115.45" y="126.99" width="12.54" height="8.01" fill="#fff"/>
<text x="115.85" y="134.10" font-size="9.0" class="at" textLength="11.74" lengthAdjust="spacingAndGlyphs">OH</text>
<rect x="376.27" y="24.09" width="12.54" height="8.01" fill="#fff"/>
<text x="376.67" y="31.20" font-size="9.0" class="at" textLength="11.74" lengthAdjust="spacingAndGlyphs">OH</text>
<rect x="295.23" y="38.28" width="12.54" height="8.01" fill="#fff"/>
<text x="295.63" y="45.39" font-size="9.0" class="at" textLength="11.74" lengthAdjust="spacingAndGlyphs">HO</text>
<rect x="318.33" y="67.21" width="12.54" height="8.01" fill="#fff"/>
<text x="318.73" y="74.32" font-size="9.0" class="at" textLength="11.74" lengthAdjust="spacingAndGlyphs">OH</text>
<rect x="334.98" y="66.94" width="6.89" height="8.01" fill="#fff"/>
<text x="335.38" y="74.05" font-size="9.0" class="at" textLength="6.09" lengthAdjust="spacingAndGlyphs">O</text>
<rect x="351.53" y="58.40" width="6.89" height="8.01" fill="#fff"/>
<text x="351.93" y="65.51" font-size="9.0" class="at" textLength="6.09" lengthAdjust="spacingAndGlyphs">O</text>
<rect x="334.71" y="38.55" width="6.89" height="8.01" fill="#fff"/>
<text x="335.11" y="45.66" font-size="9.0" class="at" textLength="6.09" lengthAdjust="spacingAndGlyphs">O</text>
<rect x="343.61" y="72.99" width="6.89" height="8.01" fill="#fff"/>
<text x="344.01" y="80.10" font-size="9.0" class="at" textLength="6.09" lengthAdjust="spacingAndGlyphs">O</text>
<rect x="369.95" y="68.63" width="12.54" height="8.01" fill="#fff"/>
<text x="370.35" y="75.74" font-size="9.0" class="at" textLength="11.74" lengthAdjust="spacingAndGlyphs">OH</text>
<rect x="368.97" y="87.32" width="12.54" height="8.01" fill="#fff"/>
<text x="369.37" y="94.43" font-size="9.0" class="at" textLength="11.74" lengthAdjust="spacingAndGlyphs">OH</text>
<rect x="359.98" y="100.76" width="12.54" height="8.01" fill="#fff"/>
<text x="360.38" y="107.87" font-size="9.0" class="at" textLength="11.74" lengthAdjust="spacingAndGlyphs">OH</text>
<rect x="334.80" y="96.67" width="6.89" height="8.01" fill="#fff"/>
<text x="335.20" y="103.78" font-size="9.0" class="at" textLength="6.09" lengthAdjust="spacingAndGlyphs">O</text>
<rect x="315.57" y="97.02" width="6.89" height="8.01" fill="#fff"/>
<text x="315.97" y="104.13" font-size="9.0" class="at" textLength="6.09" lengthAdjust="spacingAndGlyphs">O</text>
<rect x="292.12" y="117.67" width="12.54" height="8.01" fill="#fff"/>
<text x="292.52" y="124.78" font-size="9.0" class="at" textLength="11.74" lengthAdjust="spacingAndGlyphs">HO</text>
<rect x="333.91" y="117.67" width="12.54" height="8.01" fill="#fff"/>
<text x="334.31" y="124.78" font-size="9.0" class="at" textLength="11.74" lengthAdjust="spacingAndGlyphs">OH</text>
<rect x="316.37" y="128.53" width="12.54" height="8.01" fill="#fff"/>
<text x="316.77" y="135.64" font-size="9.0" class="at" textLength="11.74" lengthAdjust="spacingAndGlyphs">OH</text>
<rect x="360.05" y="13.89" width="12.54" height="8.01" fill="#fff"/>
<text x="360.45" y="21.00" font-size="9.0" class="at" textLength="11.74" lengthAdjust="spacingAndGlyphs">OH</text>
<rect x="422.15" y="81.24" width="12.54" height="8.01" fill="#fff"/>
<text x="422.55" y="88.36" font-size="9.0" class="at" textLength="11.74" lengthAdjust="spacingAndGlyphs">OH</text>
<rect x="441.73" y="81.24" width="6.89" height="8.01" fill="#fff"/>
<text x="442.13" y="88.36" font-size="9.0" class="at" textLength="6.09" lengthAdjust="spacingAndGlyphs">O</text>
<rect x="396.93" y="115.14" width="12.54" height="8.01" fill="#fff"/>
<text x="397.33" y="122.25" font-size="9.0" class="at" textLength="11.74" lengthAdjust="spacingAndGlyphs">HO</text>
<rect x="441.73" y="115.14" width="6.89" height="8.01" fill="#fff"/>
<text x="442.13" y="122.25" font-size="9.0" class="at" textLength="6.09" lengthAdjust="spacingAndGlyphs">O</text>
<rect x="492.56" y="132.09" width="12.54" height="8.01" fill="#fff"/>
<text x="492.96" y="139.20" font-size="9.0" class="at" textLength="11.74" lengthAdjust="spacingAndGlyphs">OH</text>
<rect x="608.86" y="99.79" width="12.54" height="8.01" fill="#fff"/>
<text x="609.26" y="106.90" font-size="9.0" class="at" textLength="11.74" lengthAdjust="spacingAndGlyphs">OH</text>
<rect x="628.74" y="99.79" width="6.89" height="8.01" fill="#fff"/>
<text x="629.14" y="106.90" font-size="9.0" class="at" textLength="6.09" lengthAdjust="spacingAndGlyphs">O</text>
<rect x="584.43" y="134.59" width="12.54" height="8.01" fill="#fff"/>
<text x="584.83" y="141.70" font-size="9.0" class="at" textLength="11.74" lengthAdjust="spacingAndGlyphs">HO</text>
<rect x="629.23" y="134.59" width="6.89" height="8.01" fill="#fff"/>
<text x="629.63" y="141.70" font-size="9.0" class="at" textLength="6.09" lengthAdjust="spacingAndGlyphs">O</text>
<rect x="678.16" y="151.55" width="12.54" height="8.01" fill="#fff"/>
<text x="678.56" y="158.66" font-size="9.0" class="at" textLength="11.74" lengthAdjust="spacingAndGlyphs">OH</text>
<rect x="658.58" y="162.84" width="12.54" height="8.01" fill="#fff"/>
<text x="658.98" y="169.95" font-size="9.0" class="at" textLength="11.74" lengthAdjust="spacingAndGlyphs">OH</text>
<rect x="539.45" y="237.59" width="12.54" height="8.01" fill="#fff"/>
<text x="539.85" y="244.70" font-size="9.0" class="at" textLength="11.74" lengthAdjust="spacingAndGlyphs">OH</text>
<rect x="560.84" y="237.59" width="6.89" height="8.01" fill="#fff"/>
<text x="561.24" y="244.70" font-size="9.0" class="at" textLength="6.09" lengthAdjust="spacingAndGlyphs">O</text>
<rect x="512.58" y="274.79" width="12.54" height="8.01" fill="#fff"/>
<text x="512.98" y="281.90" font-size="9.0" class="at" textLength="11.74" lengthAdjust="spacingAndGlyphs">HO</text>
<rect x="560.84" y="275.39" width="6.89" height="8.01" fill="#fff"/>
<text x="561.24" y="282.50" font-size="9.0" class="at" textLength="6.09" lengthAdjust="spacingAndGlyphs">O</text>
<rect x="612.80" y="293.39" width="12.54" height="8.01" fill="#fff"/>
<text x="613.20" y="300.50" font-size="9.0" class="at" textLength="11.74" lengthAdjust="spacingAndGlyphs">OH</text>
<rect x="592.02" y="305.39" width="12.54" height="8.01" fill="#fff"/>
<text x="592.42" y="312.50" font-size="9.0" class="at" textLength="11.74" lengthAdjust="spacingAndGlyphs">OH</text>
<rect x="581.62" y="250.19" width="12.54" height="8.01" fill="#fff"/>
<text x="582.02" y="257.31" font-size="9.0" class="at" textLength="11.74" lengthAdjust="spacingAndGlyphs">OH</text>
<rect x="142.87" y="254.46" width="11.72" height="7.58" fill="#fff"/>
<text x="143.27" y="261.14" font-size="8.370000000000001" class="at" textLength="10.92" lengthAdjust="spacingAndGlyphs">OH</text>
<rect x="160.17" y="264.81" width="11.72" height="7.58" fill="#fff"/>
<text x="160.57" y="271.49" font-size="8.370000000000001" class="at" textLength="10.92" lengthAdjust="spacingAndGlyphs">OH</text>
<rect x="78.31" y="279.51" width="11.72" height="7.58" fill="#fff"/>
<text x="78.71" y="286.19" font-size="8.370000000000001" class="at" textLength="10.92" lengthAdjust="spacingAndGlyphs">HO</text>
<rect x="100.57" y="307.71" width="11.72" height="7.58" fill="#fff"/>
<text x="100.97" y="314.39" font-size="8.370000000000001" class="at" textLength="10.92" lengthAdjust="spacingAndGlyphs">OH</text>
<rect x="116.67" y="307.21" width="6.47" height="7.58" fill="#fff"/>
<text x="117.07" y="313.89" font-size="8.370000000000001" class="at" textLength="5.67" lengthAdjust="spacingAndGlyphs">O</text>
<rect x="133.57" y="298.11" width="6.47" height="7.58" fill="#fff"/>
<text x="133.97" y="304.79" font-size="8.370000000000001" class="at" textLength="5.67" lengthAdjust="spacingAndGlyphs">O</text>
<rect x="117.07" y="278.71" width="6.47" height="7.58" fill="#fff"/>
<text x="117.47" y="285.39" font-size="8.370000000000001" class="at" textLength="5.67" lengthAdjust="spacingAndGlyphs">O</text>
<rect x="125.71" y="312.71" width="6.47" height="7.58" fill="#fff"/>
<text x="126.11" y="319.39" font-size="8.370000000000001" class="at" textLength="5.67" lengthAdjust="spacingAndGlyphs">O</text>
<rect x="150.67" y="308.81" width="11.72" height="7.58" fill="#fff"/>
<text x="151.07" y="315.49" font-size="8.370000000000001" class="at" textLength="10.92" lengthAdjust="spacingAndGlyphs">OH</text>
<rect x="150.67" y="328.01" width="11.72" height="7.58" fill="#fff"/>
<text x="151.07" y="334.69" font-size="8.370000000000001" class="at" textLength="10.92" lengthAdjust="spacingAndGlyphs">OH</text>
<rect x="134.17" y="338.01" width="11.72" height="7.58" fill="#fff"/>
<text x="134.57" y="344.69" font-size="8.370000000000001" class="at" textLength="10.92" lengthAdjust="spacingAndGlyphs">OH</text>
<rect x="116.62" y="338.41" width="6.47" height="7.58" fill="#fff"/>
<text x="117.02" y="345.09" font-size="8.370000000000001" class="at" textLength="5.67" lengthAdjust="spacingAndGlyphs">O</text>
<rect x="107.07" y="353.61" width="6.47" height="7.58" fill="#fff"/>
<text x="107.47" y="360.29" font-size="8.370000000000001" class="at" textLength="5.67" lengthAdjust="spacingAndGlyphs">O</text>
<rect x="89.77" y="353.61" width="6.47" height="7.58" fill="#fff"/>
<text x="90.17" y="360.29" font-size="8.370000000000001" class="at" textLength="5.67" lengthAdjust="spacingAndGlyphs">O</text>
<rect x="75.51" y="338.41" width="11.72" height="7.58" fill="#fff"/>
<text x="75.91" y="345.09" font-size="8.370000000000001" class="at" textLength="10.92" lengthAdjust="spacingAndGlyphs">HO</text>
<rect x="189.94" y="316.97" width="11.14" height="7.26" fill="#fff"/>
<text x="190.34" y="323.33" font-size="7.92" class="at" textLength="10.34" lengthAdjust="spacingAndGlyphs">HO</text>
<rect x="214.22" y="349.87" width="11.14" height="7.26" fill="#fff"/>
<text x="214.62" y="356.23" font-size="7.92" class="at" textLength="10.34" lengthAdjust="spacingAndGlyphs">OH</text>
<rect x="232.82" y="348.57" width="6.16" height="7.26" fill="#fff"/>
<text x="233.22" y="354.93" font-size="7.92" class="at" textLength="5.36" lengthAdjust="spacingAndGlyphs">O</text>
<rect x="232.92" y="317.37" width="6.16" height="7.26" fill="#fff"/>
<text x="233.32" y="323.73" font-size="7.92" class="at" textLength="5.36" lengthAdjust="spacingAndGlyphs">O</text>
<rect x="251.52" y="338.57" width="11.14" height="7.26" fill="#fff"/>
<text x="251.92" y="344.93" font-size="7.92" class="at" textLength="10.34" lengthAdjust="spacingAndGlyphs">OH</text>
<rect x="281.92" y="300.87" width="6.16" height="7.26" fill="#fff"/>
<text x="282.32" y="307.23" font-size="7.92" class="at" textLength="5.36" lengthAdjust="spacingAndGlyphs">O</text>
<rect x="280.32" y="322.27" width="11.14" height="7.26" fill="#fff"/>
<text x="280.72" y="328.63" font-size="7.92" class="at" textLength="10.34" lengthAdjust="spacingAndGlyphs">OH</text>
<rect x="290.15" y="316.32" width="6.16" height="7.26" fill="#fff"/>
<text x="290.55" y="322.68" font-size="7.92" class="at" textLength="5.36" lengthAdjust="spacingAndGlyphs">O</text>
<rect x="299.82" y="289.67" width="11.14" height="7.26" fill="#fff"/>
<text x="300.22" y="296.03" font-size="7.92" class="at" textLength="10.34" lengthAdjust="spacingAndGlyphs">OH</text>
<rect x="318.32" y="300.92" width="11.14" height="7.26" fill="#fff"/>
<text x="318.72" y="307.28" font-size="7.92" class="at" textLength="10.34" lengthAdjust="spacingAndGlyphs">OH</text>
<rect x="318.32" y="322.27" width="11.14" height="7.26" fill="#fff"/>
<text x="318.72" y="328.63" font-size="7.92" class="at" textLength="10.34" lengthAdjust="spacingAndGlyphs">OH</text>
<rect x="308.72" y="338.37" width="11.14" height="7.26" fill="#fff"/>
<text x="309.12" y="344.73" font-size="7.92" class="at" textLength="10.34" lengthAdjust="spacingAndGlyphs">OH</text>
<text x="82.9" y="148.5" font-size="10" class="nm" textLength="106.5" lengthAdjust="spacingAndGlyphs">kaempferol-<tspan font-style="italic">O</tspan>-rutinosídeo</text>
<text x="284.7" y="147.5" font-size="10" class="nm" textLength="102.5" lengthAdjust="spacingAndGlyphs">quercetina-<tspan font-style="italic">O</tspan>-rutinosideo</text>
<text x="418.6" y="138.0" font-size="10" class="nm" textLength="42.4" lengthAdjust="spacingAndGlyphs">naringenina</text>
<text x="603.4" y="154.5" font-size="10" class="nm" textLength="36.8" lengthAdjust="spacingAndGlyphs">eriodictiol</text>
<text x="534.3" y="298.4" font-size="10" class="nm" textLength="40.7" lengthAdjust="spacingAndGlyphs">quercetina</text>
<text x="73.4" y="369.7" font-size="10" class="nm" textLength="112.8" lengthAdjust="spacingAndGlyphs">quercetina-<tspan font-style="italic">O</tspan>-malonilglicosideo</text>
<text x="211.5" y="367.5" font-size="10" class="nm" textLength="86.5" lengthAdjust="spacingAndGlyphs">quercetina-<tspan font-style="italic">O</tspan>-glicosideo</text>
<line x1="185.6" y1="121.9" x2="173.80" y2="115.29" stroke="#1c5c7c" stroke-width="2.2"/>
<path d="M169.00,112.60 L176.67,113.23 L173.54,115.14 L173.54,118.81 Z" fill="#1c5c7c"/>
<line x1="280.0" y1="135.6" x2="287.95" y2="132.18" stroke="#1c5c7c" stroke-width="2.2"/>
<path d="M293.00,130.00 L287.84,135.71 L288.22,132.06 L285.31,129.83 Z" fill="#1c5c7c"/>
<line x1="483.4" y1="100.8" x2="473.90" y2="100.80" stroke="#1c5c7c" stroke-width="2.2"/>
<path d="M468.40,100.80 L475.40,97.60 L473.60,100.80 L475.40,104.00 Z" fill="#1c5c7c"/>
<line x1="590.7" y1="101.4" x2="600.25" y2="107.90" stroke="#1c5c7c" stroke-width="2.2"/>
<path d="M604.80,111.00 L597.21,109.71 L600.50,108.07 L600.81,104.42 Z" fill="#1c5c7c"/>
<line x1="507.0" y1="254.0" x2="515.50" y2="254.00" stroke="#1c5c7c" stroke-width="2.2"/>
<path d="M521.00,254.00 L514.00,257.20 L515.80,254.00 L514.00,250.80 Z" fill="#1c5c7c"/>
<line x1="228.9" y1="240.4" x2="174.10" y2="276.38" stroke="#1c5c7c" stroke-width="2.2"/>
<path d="M169.50,279.40 L173.60,272.88 L173.85,276.55 L177.11,278.23 Z" fill="#1c5c7c"/>
<line x1="314.0" y1="254.4" x2="306.36" y2="274.46" stroke="#1c5c7c" stroke-width="2.2"/>
<path d="M304.40,279.60 L303.90,271.92 L306.25,274.74 L309.88,274.20 Z" fill="#1c5c7c"/>
<circle cx="673.6" cy="254.2" r="7.2" fill="#e04664" stroke="#a83a55" stroke-width="1"/>
<circle cx="674.1" cy="276.7" r="7.2" fill="#8cd755" stroke="#5c8f45" stroke-width="1"/>
<text x="686.5" y="257.2" font-size="10" class="nm" textLength="13.6" lengthAdjust="spacingAndGlyphs">SM</text>
<text x="686.5" y="280.9" font-size="10" class="nm" textLength="12.4" lengthAdjust="spacingAndGlyphs">SG</text>
<text x="5.6" y="394.6" font-size="12.7" class="cap" font-style="italic" textLength="634.4" lengthAdjust="spacingAndGlyphs"><tspan font-weight="bold">Figura 1.</tspan> Redes moleculares e compostos anotados para os extratos etanólicos das folhas (SM) e dos galhos (SG) de S. multijuga</text>
</svg></body></html>
